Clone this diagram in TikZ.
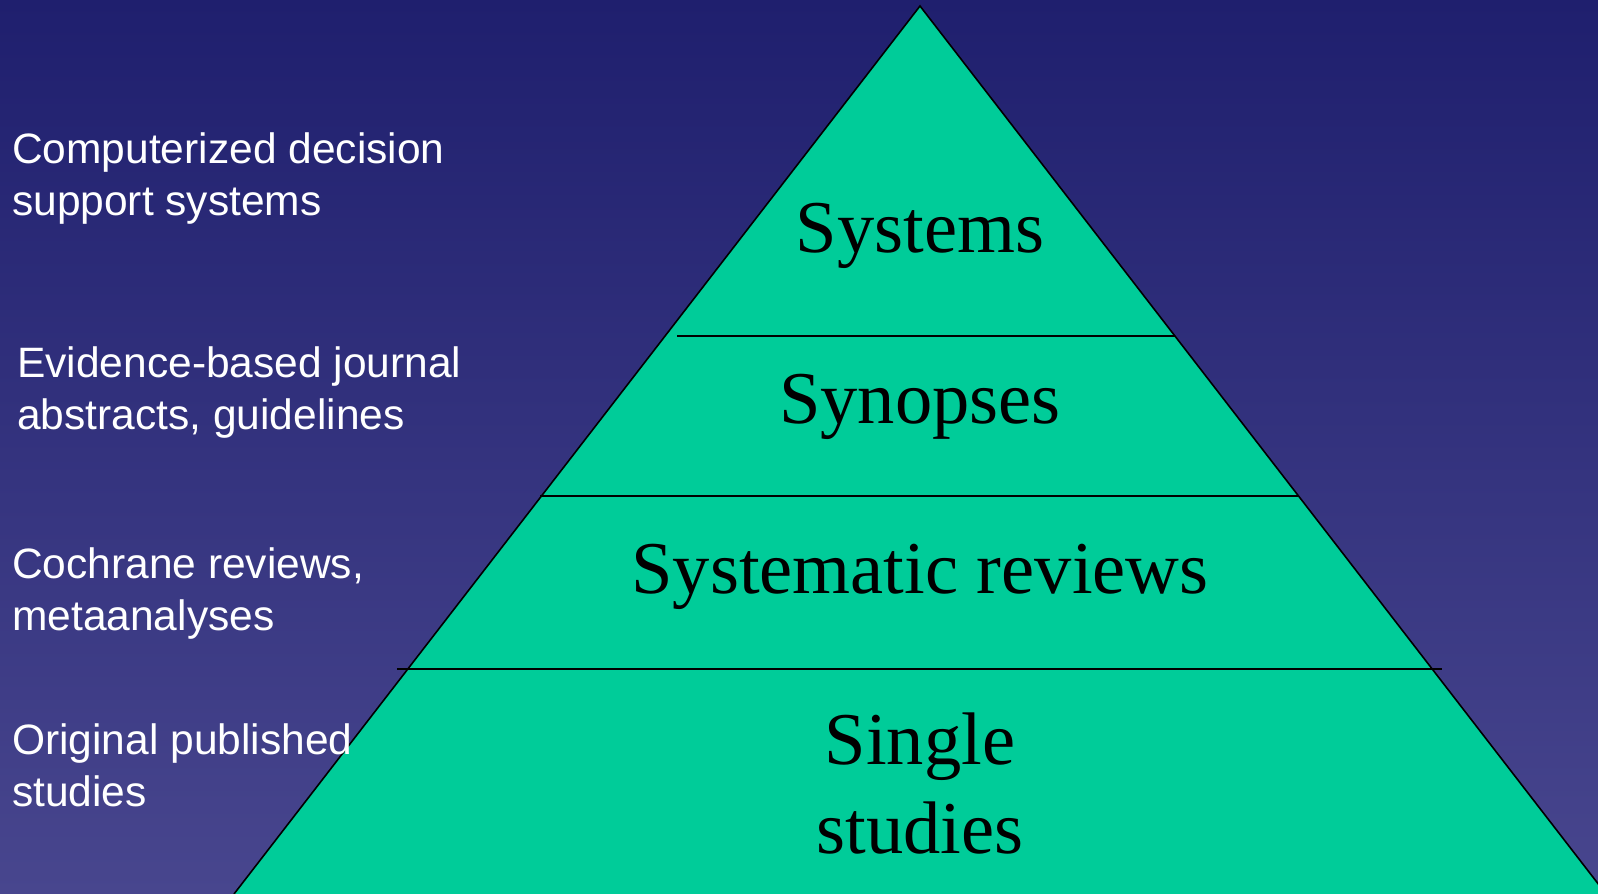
\documentclass[tikz,border=0pt]{standalone}
\usepackage{fontspec}
\setmainfont{Liberation Serif}
\newfontfamily\arialish{Liberation Sans}
\definecolor{bgtop}{RGB}{31,31,110}
\definecolor{bgbot}{RGB}{72,70,142}
\definecolor{pyrgreen}{RGB}{0,204,153}
\begin{document}
\begin{tikzpicture}[x=1pt,y=-1pt,
  sidelabel/.style={anchor=base west,inner sep=0pt,text=white,font=\arialish\fontsize{42.5}{51}\selectfont},
  tierlabel/.style={anchor=base,inner sep=0pt,text=black,font=\fontsize{74.5}{86}\selectfont},
  divider/.style={draw=black,line width=1.6pt}]
\useasboundingbox (0,0) rectangle (1598,894);
\shade[top color=bgtop,bottom color=bgbot] (0,0) rectangle (1598,894);
\coordinate (apex) at (920,6);
\coordinate (bl) at (234,894);
\coordinate (br) at (1606,894);
\filldraw[fill=pyrgreen,draw=black,line width=1.6pt] (bl) -- (apex) -- (br);
\coordinate (d1l) at (677,336); \coordinate (d1r) at (1175,336);
\coordinate (d2l) at (540,496); \coordinate (d2r) at (1299,496);
\coordinate (d3l) at (397,669); \coordinate (d3r) at (1442,669);
\draw[divider] (d1l) -- (d1r);
\draw[divider] (d2l) -- (d2r);
\draw[divider] (d3l) -- (d3r);
\node[tierlabel] (t1) at (920,252) {Systems};
\node[tierlabel] (t2) at (920,423) {Synopses};
\node[tierlabel] (t3) at (920,593) {Systematic reviews};
\node[tierlabel] (t4a) at (920,764) {Single};
\node[tierlabel] (t4b) at (920,853) {studies};
\node[sidelabel] (s1a) at (12,163) {Computerized decision};
\node[sidelabel] (s1b) at (12,215) {support systems};
\node[sidelabel] (s2a) at (17,377) {Evidence-based journal};
\node[sidelabel] (s2b) at (17,429) {abstracts, guidelines};
\node[sidelabel] (s3a) at (12,578) {Cochrane reviews,};
\node[sidelabel] (s3b) at (12,630) {metaanalyses};
\node[sidelabel] (s4a) at (12,754) {Original published};
\node[sidelabel] (s4b) at (12,806) {studies};
\end{tikzpicture}
\end{document}
